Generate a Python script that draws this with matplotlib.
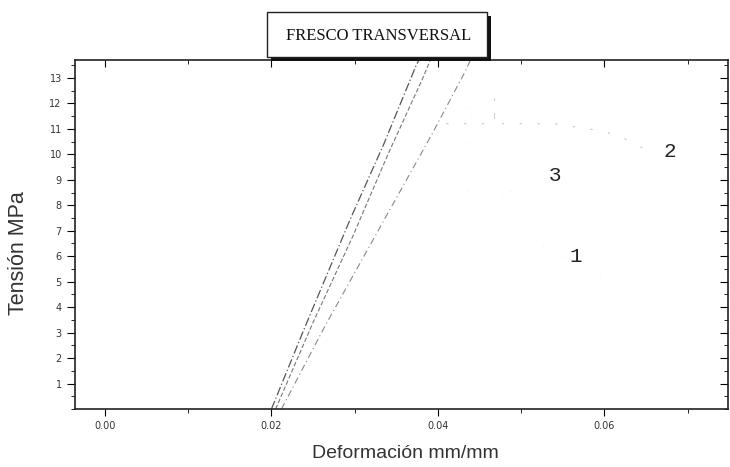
import matplotlib
matplotlib.use("Agg")
import matplotlib.pyplot as plt
from matplotlib.patches import Rectangle
from matplotlib.ticker import MultipleLocator

# curvas tension-deformacion (tramo lineal que sale por arriba del grafico)
strain_1 = [0.0200, 0.0240, 0.0294, 0.0335, 0.0374, 0.0392]
stress_1 = [0.0, 3.2, 7.4, 10.4, 13.5, 14.6]
strain_2 = [0.0205, 0.0250, 0.0298, 0.0340, 0.0382, 0.0396]
stress_2 = [0.0, 3.4, 6.8, 10.0, 13.0, 14.1]
strain_3 = [0.0212, 0.0265, 0.0335, 0.0393, 0.0432, 0.0442]
stress_3 = [0.0, 3.3, 7.4, 10.8, 13.2, 13.9]

# restos de la rama descendente (casi borrados en el original)
post_strain_2 = [0.0410, 0.0468, 0.0468, 0.0468, 0.0540, 0.0600, 0.0625, 0.0655]
post_stress_2 = [11.2, 11.2, 12.2, 11.2, 11.2, 10.9, 10.6, 10.1]
post_strain_3 = [0.0442, 0.0430, 0.0480]
post_stress_3 = [13.9, 8.6, 8.3]
post_strain_1 = [0.0392, 0.0520, 0.0655]
post_stress_1 = [14.6, 6.5, 4.1]

curve_labels = ["1", "2", "3"]
label_x = [0.0565, 0.0679, 0.0541]
label_y = [6.0, 10.1, 9.15]

x_ticks = [0.00, 0.02, 0.04, 0.06]
y_ticks = list(range(1, 14))

fig = plt.figure(figsize=(7.3, 4.67), dpi=100)
ax = fig.add_axes([0.1027, 0.124, 0.894, 0.7475])

ax.plot(strain_1, stress_1, color="#555555", lw=0.9, ls=(0, (7, 2, 1, 2)))
ax.plot(strain_2, stress_2, color="#777777", lw=0.8, ls=(0, (4, 2)))
ax.plot(strain_3, stress_3, color="#888888", lw=0.8, ls=(0, (6, 3, 1, 3)))

ax.plot(post_strain_2, post_stress_2, color="#c4c4c4", lw=0.8, ls=(0, (2, 14)))
ax.plot(post_strain_3, post_stress_3, color="#e4e4e4", lw=0.6, ls=(0, (1, 20)))
ax.plot(post_strain_1, post_stress_1, color="#e8e8e8", lw=0.6, ls=(0, (1, 25)))

for lab, lx, ly in zip(curve_labels, label_x, label_y):
    ax.text(lx, ly, lab, fontsize=15, family="Liberation Mono", color="#222222",
            ha="center", va="center")

ax.set_xlim(-0.0036, 0.0748)
ax.set_ylim(0, 13.7)
ax.set_xticks(x_ticks)
ax.set_xticklabels(["%.2f" % v for v in x_ticks])
ax.set_yticks(y_ticks)
ax.xaxis.set_minor_locator(MultipleLocator(0.01))
ax.yaxis.set_minor_locator(MultipleLocator(0.5))

ax.tick_params(axis="both", which="major", labelsize=7, labelcolor="#333333", width=0.8)
ax.tick_params(axis="x", which="both", top=True, direction="out")
ax.tick_params(axis="y", which="both", right=True, direction="out")
ax.tick_params(axis="x", which="major", length=5)
ax.tick_params(axis="y", which="major", length=6)
ax.tick_params(axis="both", which="minor", length=3, width=0.6)
# ticks de arriba y derecha hacia dentro
for t in ax.xaxis.get_major_ticks() + ax.xaxis.get_minor_ticks():
    t.tick2line.set_marker(3)
for t in ax.yaxis.get_major_ticks() + ax.yaxis.get_minor_ticks():
    t.tick2line.set_marker(0)

for s in ax.spines.values():
    s.set_linewidth(1.2)
    s.set_color("#222222")

ax.set_xlabel("Deformación mm/mm", fontsize=14, family="Liberation Sans", color="#333333")
ax.set_ylabel("Tensión MPa", fontsize=15.5, family="Liberation Sans", color="#333333")
ax.xaxis.set_label_coords(0.507, -0.104)
ax.yaxis.set_label_coords(-0.071, 0.447)

# cuadro del titulo con sombra
fig.patches.append(Rectangle((271 / 730, (467 - 61) / 467), 220 / 730, 45 / 467,
                             transform=fig.transFigure, facecolor="#111111",
                             edgecolor="none", zorder=5))
fig.patches.append(Rectangle((267 / 730, (467 - 57) / 467), 220 / 730, 45 / 467,
                             transform=fig.transFigure, facecolor="white",
                             edgecolor="#222222", lw=1.0, zorder=6))
fig.text(379 / 730, (467 - 36) / 467, "FRESCO TRANSVERSAL", fontsize=12,
         family="Liberation Serif", color="#111111", ha="center", va="center", zorder=7)

fig.savefig("out.png", dpi=100)
